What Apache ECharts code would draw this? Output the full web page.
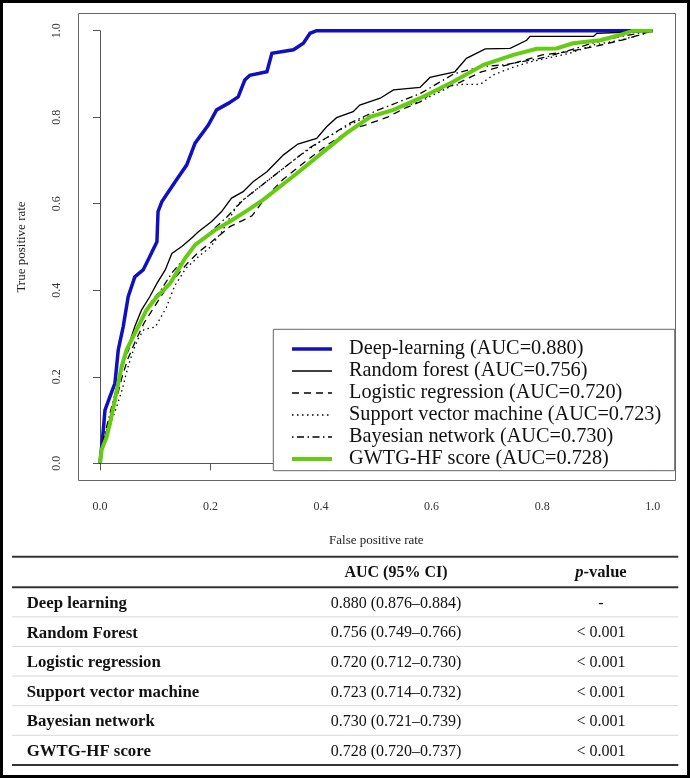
<!DOCTYPE html>
<html><head><meta charset="utf-8">
<script src="https://cdn.jsdelivr.net/npm/echarts@6/dist/echarts.min.js"></script>
<style>html,body{margin:0;padding:0;background:#fff}#c{width:690px;height:778px}</style>
</head><body><div id="c"></div>
<script>
// ---------- data ----------
const legendNames = ['Deep-learning (AUC=0.880)','Random forest (AUC=0.756)','Logistic regression (AUC=0.720)','Support vector machine (AUC=0.723)','Bayesian network (AUC=0.730)','GWTG-HF score (AUC=0.728)'];
const xTickLabels = ['0.0','0.2','0.4','0.6','0.8','1.0'];
const yTickLabels = ['0.0','0.2','0.4','0.6','0.8','1.0'];

const dlFpr = [0,0.006,0.009,0.018,0.027,0.033,0.042,0.051,0.063,0.078,0.087,0.103,0.105,0.112,0.136,0.157,0.172,0.196,0.211,0.232,0.250,0.262,0.271,0.302,0.311,0.350,0.368,0.380,0.392,1.0];
const dlTpr = [0,0.077,0.123,0.154,0.185,0.262,0.316,0.385,0.431,0.447,0.470,0.512,0.582,0.605,0.651,0.690,0.740,0.782,0.817,0.832,0.847,0.886,0.897,0.905,0.948,0.956,0.971,0.994,1.0,1.0];

const rfFpr = [0,0.003,0.014,0.024,0.036,0.051,0.063,0.075,0.090,0.103,0.118,0.130,0.148,0.166,0.178,0.202,0.220,0.238,0.259,0.277,0.302,0.332,0.358,0.392,0.410,0.428,0.458,0.470,0.507,0.531,0.579,0.597,0.642,0.663,0.697,0.742,0.772,0.778,0.893,0.899,0.959,1.0];
const rfTpr = [0,0.023,0.085,0.131,0.208,0.270,0.316,0.354,0.385,0.416,0.447,0.485,0.501,0.521,0.535,0.559,0.582,0.613,0.628,0.651,0.674,0.713,0.738,0.751,0.778,0.799,0.813,0.828,0.844,0.863,0.869,0.892,0.905,0.936,0.958,0.959,0.978,0.987,0.987,0.994,0.997,1.0];

const lrFpr = [0,0.005,0.015,0.03,0.04,0.05,0.065,0.08,0.1,0.12,0.14,0.16,0.18,0.2,0.235,0.275,0.3,0.33,0.374,0.41,0.44,0.46,0.48,0.52,0.55,0.58,0.6,0.65,0.69,0.75,0.8,0.85,0.9,0.95,1.0];
const lrTpr = [0,0.04,0.09,0.15,0.2,0.24,0.285,0.325,0.365,0.405,0.435,0.465,0.49,0.51,0.547,0.572,0.615,0.655,0.70,0.735,0.76,0.775,0.782,0.80,0.82,0.836,0.856,0.88,0.905,0.925,0.944,0.952,0.965,0.98,1.0];

const svFpr = [0,0.005,0.015,0.03,0.04,0.05,0.06,0.07,0.08,0.1,0.12,0.135,0.155,0.18,0.2,0.22,0.25,0.27,0.3,0.33,0.36,0.4,0.44,0.48,0.52,0.55,0.579,0.615,0.639,0.657,0.688,0.712,0.742,0.778,0.808,0.85,0.893,0.941,0.977,1.0];
const svTpr = [0,0.035,0.075,0.13,0.17,0.22,0.26,0.29,0.31,0.315,0.36,0.41,0.45,0.48,0.5,0.535,0.6,0.62,0.65,0.68,0.71,0.745,0.775,0.8,0.815,0.825,0.836,0.859,0.874,0.876,0.876,0.898,0.913,0.928,0.936,0.948,0.967,0.978,0.99,1.0];

const bnFpr = [0,0.005,0.015,0.025,0.035,0.045,0.06,0.075,0.09,0.11,0.13,0.15,0.17,0.2,0.23,0.26,0.3,0.34,0.38,0.42,0.45,0.5,0.55,0.58,0.64,0.69,0.73,0.78,0.81,0.86,0.89,0.94,1.0];
const bnTpr = [0,0.05,0.1,0.15,0.2,0.24,0.29,0.33,0.37,0.40,0.44,0.47,0.5,0.535,0.57,0.61,0.65,0.69,0.73,0.76,0.785,0.815,0.84,0.855,0.9,0.917,0.921,0.932,0.94,0.959,0.971,0.986,1.0];

const gwFpr = [0,0.003,0.012,0.018,0.027,0.033,0.039,0.048,0.066,0.084,0.103,0.127,0.154,0.172,0.208,0.235,0.271,0.295,0.356,0.404,0.446,0.489,0.531,0.579,0.639,0.694,0.748,0.790,0.826,0.856,0.905,0.941,0.965,1.0];
const gwTpr = [0,0.031,0.061,0.092,0.146,0.185,0.223,0.262,0.308,0.354,0.385,0.416,0.474,0.505,0.539,0.559,0.588,0.609,0.670,0.720,0.763,0.801,0.817,0.844,0.882,0.921,0.944,0.958,0.959,0.971,0.978,0.990,1.0,1.0];

const tableHeaderAuc = 'AUC (95% CI)';
const tableModels = ['Deep learning','Random Forest','Logistic regression','Support vector machine','Bayesian network','GWTG-HF score'];
const tableAuc = ['0.880 (0.876–0.884)','0.756 (0.749–0.766)','0.720 (0.712–0.730)','0.723 (0.714–0.732)','0.730 (0.721–0.739)','0.728 (0.720–0.737)'];
const tablePval = ['-','< 0.001','< 0.001','< 0.001','< 0.001','< 0.001'];

// ---------- chart ----------
const FONT = '"Liberation Serif","Times New Roman",serif';
const LEG_FS = 20.3;

const chart = echarts.init(document.getElementById('c'));
function pairs(xs, ys){ return xs.map((x,i)=>[x, ys[i]]); }
function mk(name, xs, ys, color, width, type){
  return {name:name, type:'line', data:pairs(xs,ys), symbol:'none', showSymbol:false, animation:false,
    lineStyle:{color:color, width:width, type:type, cap:'butt', join:'miter'}, itemStyle:{color:color},
    emphasis:{disabled:true}, silent:true};
}
const series = [
  mk(legendNames[0], dlFpr, dlTpr, '#1010c0', 3.5, 'solid'),
  mk(legendNames[1], rfFpr, rfTpr, '#000', 1.3, 'solid'),
  mk(legendNames[2], lrFpr, lrTpr, '#000', 1.3, [7,5]),
  mk(legendNames[3], svFpr, svTpr, '#000', 1.3, [1.5,3.5]),
  mk(legendNames[4], bnFpr, bnTpr, '#000', 1.3, [1.5,3.5,7,3.5]),
  mk(legendNames[5], gwFpr, gwTpr, '#66cc11', 4, 'solid')
];
const axisCommon = {type:'value', min:0, max:1, interval:0.2,
  axisLine:{show:true, lineStyle:{color:'#555', width:1}},
  axisTick:{show:true, inside:false, length:7, lineStyle:{color:'#555'}},
  splitLine:{show:false},
  nameLocation:'middle', nameTextStyle:{fontFamily:FONT, fontSize:13, color:'#222'}
};
chart.setOption({
  animation:false,
  grid:{left:100, right:37.3, top:30.7, bottom:314.7, containLabel:false},
  xAxis:Object.assign({}, axisCommon, {offset:17.3, name:'False positive rate', nameGap:53,
    axisLabel:{fontFamily:FONT, fontSize:12, color:'#333', margin:20, formatter:(v)=>xTickLabels[Math.round(v*5)]}}),
  yAxis:Object.assign({}, axisCommon, {offset:22.1, name:'True positive rate', nameGap:50,
    axisLabel:{fontFamily:FONT, fontSize:12, color:'#333', margin:15, rotate:90, formatter:(v)=>yTickLabels[Math.round(v*5)]}}),
  legend:{data:legendNames, orient:'vertical', left:273.3, top:329.3, padding:[8.7,13.5,0.7,16.7],
    itemWidth:40, itemHeight:14, itemGap:0, borderColor:'#666', borderWidth:1, backgroundColor:'#fff',
    selectedMode:false, itemStyle:{opacity:0}, lineStyle:{width:'inherit'},
    textStyle:{fontFamily:FONT, fontSize:LEG_FS, lineHeight:22, color:'#111', padding:[0,0,0,12]}},
  series:series
});

// plot box derived from the axis scale (R's 4% extension)
const p0 = chart.convertToPixel({gridIndex:0}, [-0.04, 1.04]);
const p1 = chart.convertToPixel({gridIndex:0}, [1.04, -0.04]);

const g = [];
g.push({type:'rect', z:100, silent:true, shape:{x:Math.round(p0[0])+0.5, y:Math.round(p0[1])+0.5, width:Math.round(p1[0]-p0[0]), height:Math.round(p1[1]-p0[1])}, style:{fill:'none', stroke:'#666', lineWidth:1}});
// outer frame
g.push({type:'rect', z:100, silent:true, shape:{x:1.5, y:1.5, width:687, height:775}, style:{fill:'none', stroke:'#000', lineWidth:3}});

// table
const TL = 12, TR = 678.3, col2 = 396, col3 = 601, rowTop = 587.3, rowH = 29.6;
g.push({type:'line', silent:true, shape:{x1:TL,y1:556.7,x2:TR,y2:556.7}, style:{stroke:'#333', lineWidth:2}});
g.push({type:'line', silent:true, shape:{x1:TL,y1:587.3,x2:TR,y2:587.3}, style:{stroke:'#333', lineWidth:2}});
g.push({type:'text', silent:true, style:{text:tableHeaderAuc, x:col2, y:573, align:'center', verticalAlign:'middle', font:'bold 16px '+FONT, fill:'#111'}});
g.push({type:'text', silent:true, style:{text:'{i|p}{b|-value}', x:col3, y:573, align:'center', verticalAlign:'middle', font:'bold 16px '+FONT, fill:'#111',
  rich:{i:{fontStyle:'italic', fontWeight:'bold', fontFamily:FONT, fontSize:16.5, fill:'#111'}, b:{fontWeight:'bold', fontFamily:FONT, fontSize:16.5, fill:'#111'}}}});
for (let i=0;i<tableModels.length;i++){
  const cy = rowTop + rowH*(i+0.5) + 1.5;
  g.push({type:'text', silent:true, style:{text:tableModels[i], x:26.7, y:cy, align:'left', verticalAlign:'middle', font:'bold 16.8px '+FONT, fill:'#111'}});
  g.push({type:'text', silent:true, style:{text:tableAuc[i], x:col2, y:cy, align:'center', verticalAlign:'middle', font:'16px '+FONT, fill:'#111'}});
  g.push({type:'text', silent:true, style:{text:tablePval[i], x:col3, y:cy, align:'center', verticalAlign:'middle', font:'16px '+FONT, fill:'#111'}});
  if (i < tableModels.length-1) {
    const ly = rowTop + rowH*(i+1);
    g.push({type:'line', silent:true, shape:{x1:TL,y1:ly,x2:TR,y2:ly}, style:{stroke:'#d8d8d8', lineWidth:1}});
  }
}
g.push({type:'line', silent:true, shape:{x1:TL,y1:765,x2:TR,y2:765}, style:{stroke:'#333', lineWidth:2}});
chart.setOption({graphic:g});
</script></body></html>
